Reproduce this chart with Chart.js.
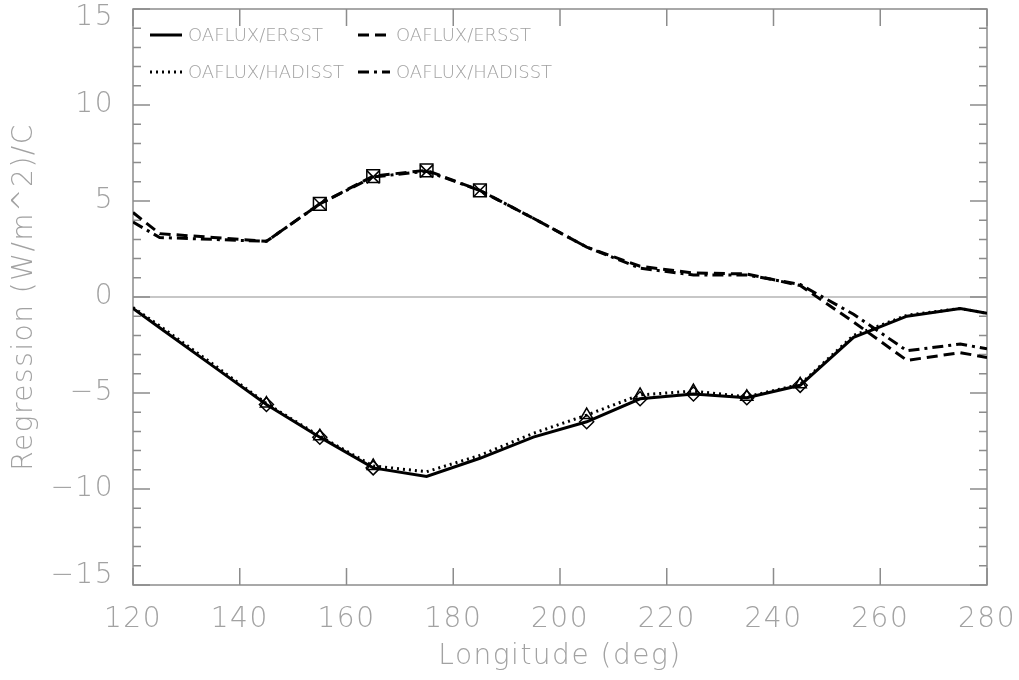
<!DOCTYPE html>
<html>
<head>
<meta charset="utf-8">
<script src="https://cdn.jsdelivr.net/npm/chart.js@4"></script>
<style>
  body { margin: 0; background: #fff; }
  canvas { display: block; }
</style>
</head>
<body>
<canvas id="chart" width="1019" height="680"></canvas>
<script>
// longitude of each sample
const lon = [120, 125, 135, 145, 155, 165, 175, 185, 195, 205, 215, 225, 235, 245, 255, 265, 275, 280];

// regression, lower pair of curves
const ersstLower   = [-0.6, -1.6, -3.6, -5.6, -7.3, -8.9, -9.35, -8.4, -7.3, -6.5, -5.3, -5.05, -5.25, -4.6, -2.1, -1.0, -0.6, -0.85];
const hadisstLower = [-0.55, -1.5, -3.5, -5.55, -7.25, -8.8, -9.1, -8.25, -7.1, -6.15, -5.1, -4.9, -5.2, -4.55, -2.0, -0.95, -0.6, -0.85];

// regression, upper pair of curves
const ersstUpper   = [4.4, 3.3, 3.1, 2.9, 4.85, 6.3, 6.6, 5.55, 4.1, 2.6, 1.6, 1.25, 1.2, 0.6, -1.3, -3.3, -2.9, -3.15];
const hadisstUpper = [3.9, 3.1, 3.0, 2.9, 4.85, 6.25, 6.55, 5.55, 4.1, 2.6, 1.5, 1.15, 1.15, 0.65, -0.9, -2.8, -2.45, -2.7];

// longitudes that carry a symbol
const markedLower = [145, 155, 165, 205, 215, 225, 235, 245];
const markedUpper = [155, 165, 175, 185];

const xTicks = [120, 140, 160, 180, 200, 220, 240, 260, 280];
const yTicks = [-15, -10, -5, 0, 5, 10, 15];

const labelGrey = '#a2a2a2';
const frameGrey = '#8c8c8c';
const fontFamily = '"DejaVu Sans", "Liberation Sans", sans-serif';
const axisFont = { family: fontFamily, size: 28, weight: 200 };

function pts(values) {
    return values.map((v, i) => ({ x: lon[i], y: v }));
}
function radii(marked, r) {
    return lon.map(x => marked.includes(x) ? r : 0);
}

const datasets = [
    {
        label: 'OAFLUX/ERSST', data: pts(ersstLower),
        borderColor: '#000', borderWidth: 3, borderDash: [],
        pointStyle: 'rectRot', pointRadius: radii(markedLower, 7),
        pointBorderWidth: 1.5, pointBorderColor: '#000', pointBackgroundColor: 'rgba(0,0,0,0)'
    },
    {
        label: 'OAFLUX/ERSST', data: pts(ersstUpper),
        borderColor: '#000', borderWidth: 3, borderDash: [11, 6],
        pointStyle: 'rect', pointRadius: radii(markedUpper, 9),
        pointBorderWidth: 1.5, pointBorderColor: '#000', pointBackgroundColor: 'rgba(0,0,0,0)'
    },
    {
        label: 'OAFLUX/HADISST', data: pts(hadisstLower),
        borderColor: '#000', borderWidth: 3, borderDash: [2, 4],
        pointStyle: 'triangle', pointRadius: radii(markedLower, 7),
        pointBorderWidth: 1.5, pointBorderColor: '#000', pointBackgroundColor: 'rgba(0,0,0,0)'
    },
    {
        label: 'OAFLUX/HADISST', data: pts(hadisstUpper),
        borderColor: '#000', borderWidth: 3, borderDash: [11, 5, 3, 5],
        pointStyle: 'crossRot', pointRadius: radii(markedUpper, 9),
        pointBorderWidth: 1.5, pointBorderColor: '#000', pointBackgroundColor: 'rgba(0,0,0,0)'
    }
];

// frame, inward ticks, zero line and the in-plot legend
const framePlugin = {
    id: 'frame',
    beforeDraw(chart) {
        chart.ctx.letterSpacing = '1.5px'; // the original font is wide
    },
    beforeDatasetsDraw(chart) {
        const { ctx, chartArea: a, scales: { x, y } } = chart;
        ctx.save();
        ctx.strokeStyle = '#b4b4b4';
        ctx.lineWidth = 1.5;
        const y0 = y.getPixelForValue(0);
        ctx.beginPath();
        ctx.moveTo(a.left, y0);
        ctx.lineTo(a.right, y0);
        ctx.stroke();

        ctx.strokeStyle = frameGrey;
        ctx.lineWidth = 1.5;
        ctx.strokeRect(a.left, a.top, a.right - a.left, a.bottom - a.top);
        ctx.beginPath();
        for (let v = -15; v <= 15; v++) {
            const py = y.getPixelForValue(v);
            const len = v % 5 === 0 ? 17 : 8;
            ctx.moveTo(a.left, py); ctx.lineTo(a.left + len, py);
            ctx.moveTo(a.right, py); ctx.lineTo(a.right - len, py);
        }
        xTicks.forEach(v => {
            const px = x.getPixelForValue(v);
            ctx.moveTo(px, a.bottom); ctx.lineTo(px, a.bottom - 17);
            ctx.moveTo(px, a.top); ctx.lineTo(px, a.top + 17);
        });
        ctx.stroke();
        ctx.restore();
    },
    afterDraw(chart) {
        const { ctx } = chart;
        const spots = [
            { i: 0, x: 150, y: 35 },
            { i: 1, x: 358, y: 35 },
            { i: 2, x: 150, y: 72 },
            { i: 3, x: 358, y: 72 }
        ];
        ctx.save();
        ctx.letterSpacing = '0px';
        ctx.font = '200 18px ' + fontFamily;
        ctx.textBaseline = 'middle';
        spots.forEach(s => {
            const ds = chart.data.datasets[s.i];
            ctx.strokeStyle = '#000';
            ctx.lineWidth = 3;
            ctx.setLineDash(ds.borderDash);
            ctx.beginPath();
            ctx.moveTo(s.x, s.y);
            ctx.lineTo(s.x + 32, s.y);
            ctx.stroke();
            ctx.setLineDash([]);
            ctx.fillStyle = labelGrey;
            ctx.fillText(ds.label, s.x + 38, s.y + 1);
        });
        ctx.restore();
        ctx.letterSpacing = '0px';
    }
};

// the end labels of the y axis sit inside the frame, like the original
function yLabel(v) {
    const s = v < 0 ? '\u2212' + Math.abs(v) : String(v);
    if (v === 15) return ['', s];
    if (v === -15) return [s, ''];
    return s;
}

new Chart(document.getElementById('chart'), {
    type: 'line',
    data: { datasets },
    options: {
        responsive: false,
        animation: false,
        layout: { padding: { top: 9, right: 32, left: 0, bottom: 0 } },
        plugins: { legend: { display: false }, tooltip: { enabled: false } },
        elements: { line: { tension: 0, fill: false } },
        scales: {
            x: {
                type: 'linear', min: 120, max: 280,
                afterBuildTicks: s => { s.ticks = xTicks.map(v => ({ value: v })); },
                grid: { display: false },
                border: { display: false },
                ticks: { color: labelGrey, font: axisFont, padding: 10, maxRotation: 0 },
                title: {
                    display: true, text: 'Longitude (deg)', color: labelGrey,
                    font: axisFont, padding: { top: 0, bottom: 6 }
                },
                afterFit: s => { s.height = 95; s.paddingLeft = 0; s.paddingRight = 0; }
            },
            y: {
                min: -15, max: 15,
                afterBuildTicks: s => { s.ticks = yTicks.map(v => ({ value: v })); },
                grid: { display: false },
                border: { display: false },
                ticks: {
                    color: labelGrey, padding: 11,
                    font: c => (c.tick && Math.abs(c.tick.value) === 15)
                        ? Object.assign({}, axisFont, { lineHeight: '18px' })
                        : axisFont,
                    callback: yLabel
                },
                title: {
                    display: true, text: 'Regression (W/m^2)/C', color: labelGrey,
                    font: axisFont, padding: { top: 8, bottom: 0 }
                },
                afterFit: s => { s.width = 133; s.paddingTop = 0; s.paddingBottom = 0; }
            }
        }
    },
    plugins: [framePlugin]
});
</script>
</body>
</html>
